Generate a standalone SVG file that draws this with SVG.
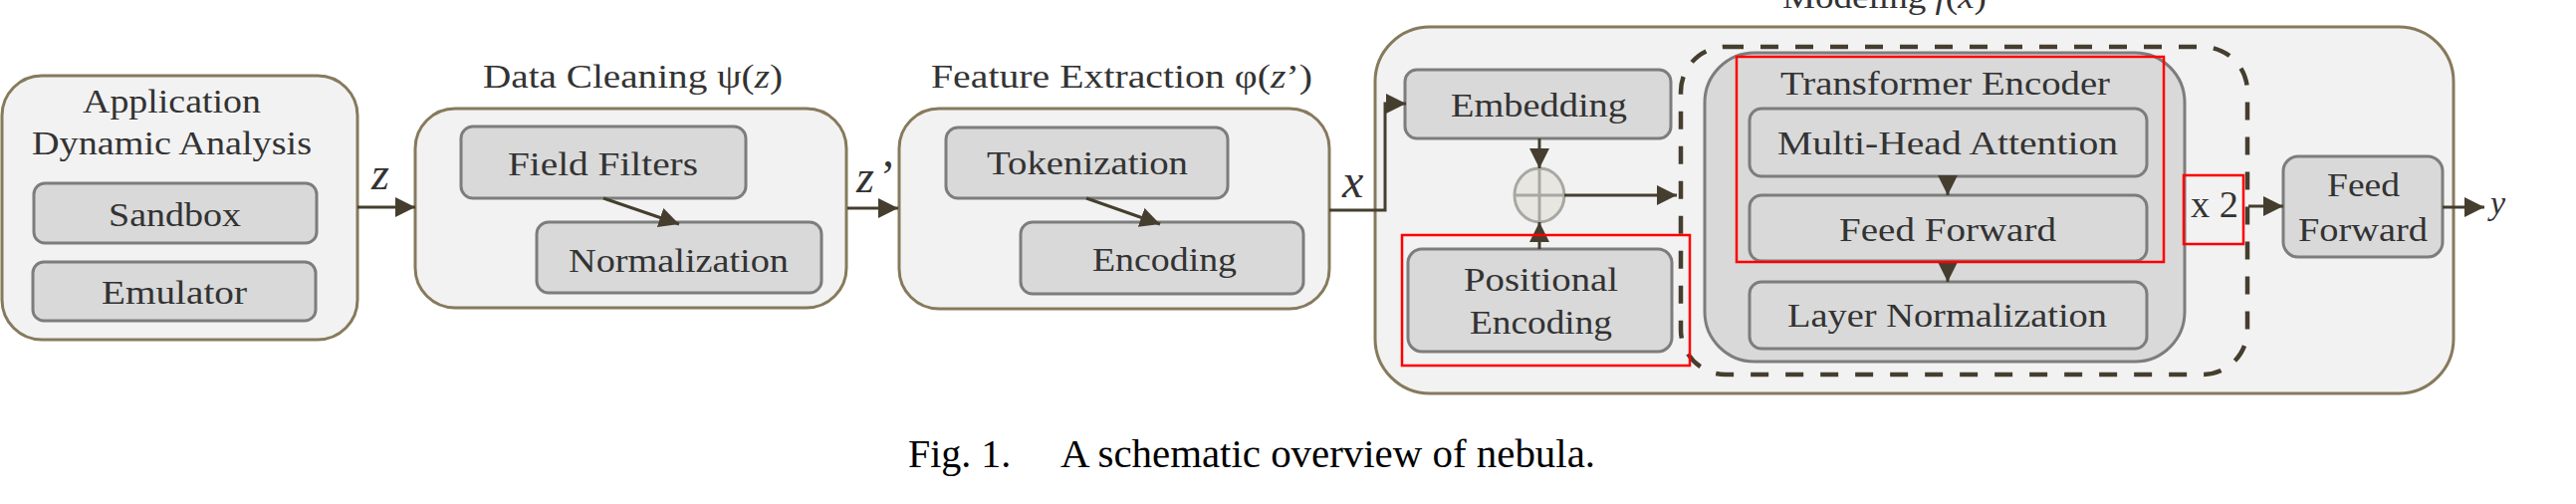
<svg xmlns="http://www.w3.org/2000/svg" width="2587" height="506" viewBox="0 0 2587 506">
<style>
.outer{fill:#f2f2f2;stroke:#867a5c;stroke-width:3}
.inner{fill:#d9d9d9;stroke:#7d7d7d;stroke-width:3}
.red{fill:none;stroke:#ff0000;stroke-width:2.5}
.dash{fill:none;stroke:#453e2f;stroke-width:4.5;stroke-dasharray:18 17}
.t{font-family:"Liberation Serif","Times New Roman",serif;font-size:33px;fill:#333333}
.m{font-family:"Liberation Serif","Times New Roman",serif;font-style:italic;fill:#333333}
.it{font-style:italic}
.cap{font-family:"Liberation Serif","Times New Roman",serif;font-size:40px;fill:#000000}
.conn{fill:none;stroke:#453e2f;stroke-width:3;marker-end:url(#ah)}
</style>
<defs>
<marker id="ah" markerUnits="userSpaceOnUse" markerWidth="20" markerHeight="20" viewBox="0 0 20 20" refX="20" refY="10" orient="auto">
<path d="M0,0 L20,10 L0,20 Z" fill="#453e2f"/>
</marker>
</defs>
<rect width="2587" height="506" fill="#ffffff"/>

<g id="app-dynamic-analysis">
<rect class="outer" x="2" y="76" width="357" height="265" rx="40"/>
<text class="t" x="83" y="113" textLength="179" lengthAdjust="spacingAndGlyphs">Application</text>
<text class="t" x="32" y="155" textLength="281" lengthAdjust="spacingAndGlyphs">Dynamic Analysis</text>
</g>
<g id="sandbox">
<rect class="inner" x="34" y="184" width="284" height="60" rx="11"/>
<text class="t" x="109" y="227" textLength="133" lengthAdjust="spacingAndGlyphs">Sandbox</text>
</g>
<g id="emulator">
<rect class="inner" x="33" y="263" width="284" height="59" rx="11"/>
<text class="t" x="102" y="305" textLength="146" lengthAdjust="spacingAndGlyphs">Emulator</text>
</g>

<g id="data-cleaning">
<text class="t" x="485" y="88" textLength="301" lengthAdjust="spacingAndGlyphs">Data Cleaning ψ(<tspan class="it">z</tspan>)</text>
<rect class="outer" x="417" y="109" width="433" height="200" rx="40"/>
</g>
<g id="field-filters">
<rect class="inner" x="463" y="127" width="286" height="72" rx="12"/>
<text class="t" x="510" y="176" textLength="191" lengthAdjust="spacingAndGlyphs">Field Filters</text>
</g>
<g id="normalization">
<rect class="inner" x="539" y="223" width="286" height="71" rx="12"/>
<text class="t" x="571" y="273" textLength="221" lengthAdjust="spacingAndGlyphs">Normalization</text>
</g>

<g id="feature-extraction">
<text class="t" x="935" y="88" textLength="383" lengthAdjust="spacingAndGlyphs">Feature Extraction φ(<tspan class="it">z</tspan>’)</text>
<rect class="outer" x="903" y="109" width="432" height="201" rx="40"/>
</g>
<g id="tokenization">
<rect class="inner" x="950" y="128" width="283" height="71" rx="12"/>
<text class="t" x="991" y="175" textLength="202" lengthAdjust="spacingAndGlyphs">Tokenization</text>
</g>
<g id="encoding">
<rect class="inner" x="1025" y="223" width="284" height="72" rx="12"/>
<text class="t" x="1097" y="272" textLength="145" lengthAdjust="spacingAndGlyphs">Encoding</text>
</g>

<g id="modeling">
<text class="t" x="1790" y="8" textLength="205" lengthAdjust="spacingAndGlyphs">Modeling <tspan class="it">f</tspan>(<tspan class="it">x</tspan>)</text>
<rect class="outer" x="1381" y="27" width="1083" height="368" rx="55"/>
</g>
<g id="embedding">
<rect class="inner" x="1411" y="70" width="267" height="69" rx="12"/>
<text class="t" x="1457" y="117" textLength="177" lengthAdjust="spacingAndGlyphs">Embedding</text>
</g>
<g id="positional-encoding">
<rect class="inner" x="1414" y="250" width="265" height="103" rx="14"/>
<text class="t" x="1470" y="292" textLength="155" lengthAdjust="spacingAndGlyphs">Positional</text>
<text class="t" x="1476" y="335" textLength="143" lengthAdjust="spacingAndGlyphs">Encoding</text>
</g>
<g id="sum">
<ellipse cx="1546" cy="196" rx="25" ry="27" fill="#e8e6e1" stroke="#a8a8a3" stroke-width="3"/>
<path d="M1521,196 H1571 M1546,169 V223" stroke="#a8a8a3" stroke-width="3" fill="none"/>
</g>
<g id="repeat-block">
<rect class="dash" x="1688" y="47" width="569" height="329" rx="45"/>
<text class="t" x="2200" y="218" font-size="37" style="font-size:37px" textLength="48" lengthAdjust="spacingAndGlyphs">x 2</text>
</g>
<g id="transformer-encoder">
<rect class="inner" x="1712" y="53" width="482" height="310" rx="50"/>
<text class="t" x="1788" y="95" textLength="331" lengthAdjust="spacingAndGlyphs">Transformer Encoder</text>
</g>
<g id="multi-head-attention">
<rect class="inner" x="1757" y="109" width="399" height="68" rx="12"/>
<text class="t" x="1785" y="155" textLength="342" lengthAdjust="spacingAndGlyphs">Multi-Head Attention</text>
</g>
<g id="feed-forward-inner">
<rect class="inner" x="1757" y="196" width="399" height="66" rx="12"/>
<text class="t" x="1847" y="242" textLength="218" lengthAdjust="spacingAndGlyphs">Feed Forward</text>
</g>
<g id="layer-normalization">
<rect class="inner" x="1757" y="283" width="399" height="67" rx="12"/>
<text class="t" x="1795" y="328" textLength="321" lengthAdjust="spacingAndGlyphs">Layer Normalization</text>
</g>
<g id="feed-forward-out">
<rect class="inner" x="2293" y="157" width="160" height="101" rx="15"/>
<text class="t" x="2337" y="197" textLength="73" lengthAdjust="spacingAndGlyphs">Feed</text>
<text class="t" x="2308" y="242" textLength="130" lengthAdjust="spacingAndGlyphs">Forward</text>
</g>

<g id="connectors">
<path class="conn" d="M359,208 L417,208"/>
<path class="conn" d="M606,199 L682,225"/>
<path class="conn" d="M851,209 L902,209"/>
<path class="conn" d="M1091,199 L1165,225"/>
<path class="conn" d="M1335,211 L1391,211 L1391,104 L1412,104"/>
<path class="conn" d="M1546,139 L1546,169"/>
<path class="conn" d="M1546,250 L1546,223"/>
<path class="conn" d="M1571,196 L1684,196"/>
<path class="conn" d="M1956,177 L1956,196"/>
<path class="conn" d="M1956,262 L1956,283"/>
<path class="conn" d="M2258,207 L2293,207"/>
<path class="conn" d="M2453,208 L2495,208"/>
<text class="m" x="373" y="190" style="font-size:46px">z</text>
<text class="m" x="860" y="193" style="font-size:46px">z<tspan x="884" style="font-style:normal">’</tspan></text>
<text class="m" x="1348" y="198" style="font-size:48px">x</text>
<text class="m" x="2501" y="215" style="font-size:34px">y</text>
</g>

<g id="highlights">
<rect class="red" x="1408" y="236" width="289" height="131"/>
<rect class="red" x="1744" y="57" width="429" height="206"/>
<rect class="red" x="2193" y="176" width="60" height="69"/>
</g>

<g id="caption">
<text class="cap" x="912" y="469">Fig. 1.</text>
<text class="cap" x="1065" y="469" textLength="537" lengthAdjust="spacingAndGlyphs">A schematic overview of nebula.</text>
</g>
</svg>
